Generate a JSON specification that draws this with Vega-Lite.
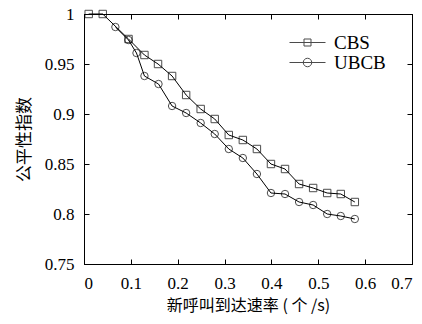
{
  "$schema": "https://vega.github.io/schema/vega-lite/v6.json",
  "width": 328,
  "height": 250,
  "autosize": "none",
  "padding": {"left": 84, "top": 14, "right": 10, "bottom": 60},
  "background": "white",
  "config": {
    "view": {"stroke": "black", "strokeWidth": 1},
    "font": "Liberation Serif",
    "axis": {
      "grid": false,
      "domainColor": "black",
      "tickColor": "black",
      "labelColor": "black",
      "labelFont": "Liberation Serif",
      "labelFontSize": 17,
      "titleFont": "Noto Sans CJK SC",
      "titleFontWeight": "normal",
      "titleColor": "black"
    }
  },
  "data": {
    "values": [
      {"rate": 0.01, "fairness": 1.0, "series": "CBS"},
      {"rate": 0.04, "fairness": 1.0, "series": "CBS"},
      {"rate": 0.095, "fairness": 0.975, "series": "CBS"},
      {"rate": 0.129, "fairness": 0.959, "series": "CBS"},
      {"rate": 0.158, "fairness": 0.95, "series": "CBS"},
      {"rate": 0.188, "fairness": 0.938, "series": "CBS"},
      {"rate": 0.218, "fairness": 0.919, "series": "CBS"},
      {"rate": 0.249, "fairness": 0.905, "series": "CBS"},
      {"rate": 0.279, "fairness": 0.895, "series": "CBS"},
      {"rate": 0.309, "fairness": 0.879, "series": "CBS"},
      {"rate": 0.339, "fairness": 0.874, "series": "CBS"},
      {"rate": 0.369, "fairness": 0.865, "series": "CBS"},
      {"rate": 0.399, "fairness": 0.85, "series": "CBS"},
      {"rate": 0.429, "fairness": 0.845, "series": "CBS"},
      {"rate": 0.459, "fairness": 0.83, "series": "CBS"},
      {"rate": 0.489, "fairness": 0.826, "series": "CBS"},
      {"rate": 0.519, "fairness": 0.821, "series": "CBS"},
      {"rate": 0.548, "fairness": 0.82, "series": "CBS"},
      {"rate": 0.578, "fairness": 0.812, "series": "CBS"},
      {"rate": 0.067, "fairness": 0.987, "series": "UBCB"},
      {"rate": 0.095, "fairness": 0.974, "series": "UBCB"},
      {"rate": 0.112, "fairness": 0.961, "series": "UBCB"},
      {"rate": 0.129, "fairness": 0.938, "series": "UBCB"},
      {"rate": 0.159, "fairness": 0.93, "series": "UBCB"},
      {"rate": 0.188, "fairness": 0.908, "series": "UBCB"},
      {"rate": 0.218, "fairness": 0.901, "series": "UBCB"},
      {"rate": 0.249, "fairness": 0.891, "series": "UBCB"},
      {"rate": 0.279, "fairness": 0.88, "series": "UBCB"},
      {"rate": 0.309, "fairness": 0.865, "series": "UBCB"},
      {"rate": 0.339, "fairness": 0.856, "series": "UBCB"},
      {"rate": 0.369, "fairness": 0.84, "series": "UBCB"},
      {"rate": 0.399, "fairness": 0.821, "series": "UBCB"},
      {"rate": 0.429, "fairness": 0.82, "series": "UBCB"},
      {"rate": 0.459, "fairness": 0.812, "series": "UBCB"},
      {"rate": 0.489, "fairness": 0.809, "series": "UBCB"},
      {"rate": 0.519, "fairness": 0.8, "series": "UBCB"},
      {"rate": 0.548, "fairness": 0.798, "series": "UBCB"},
      {"rate": 0.578, "fairness": 0.795, "series": "UBCB"}
    ]
  },
  "layer": [
    {
      "mark": {"type": "line", "color": "black", "strokeWidth": 1},
      "encoding": {
        "x": {
          "field": "rate", "type": "quantitative",
          "scale": {"domain": [0, 0.7], "nice": false, "zero": false},
          "axis": {"orient": "bottom", "values": [0, 0.1, 0.2, 0.3, 0.4, 0.5, 0.6, 0.7], "format": "~g", "tickSize": -5, "labelPadding": 16, "title": "新呼叫到达速率 ( 个 /s)", "titleFontSize": 16, "titlePadding": 6}
        },
        "y": {
          "field": "fairness", "type": "quantitative",
          "scale": {"domain": [0.75, 1], "nice": false, "zero": false},
          "axis": {"orient": "left", "values": [0.75, 0.8, 0.85, 0.9, 0.95, 1], "format": "~g", "tickSize": -5, "labelPadding": 15, "title": "公平性指数", "titleFontSize": 17, "titlePadding": 11}
        },
        "detail": {"field": "series"}
      }
    },
    {
      "mark": {"type": "point", "filled": false, "color": "black", "strokeWidth": 1},
      "encoding": {
        "x": {
          "field": "rate", "type": "quantitative",
          "axis": {"orient": "top", "values": [0, 0.1, 0.2, 0.3, 0.4, 0.5, 0.6, 0.7], "labels": false, "tickSize": -5, "title": null}
        },
        "y": {
          "field": "fairness", "type": "quantitative",
          "axis": {"orient": "right", "values": [0.75, 0.8, 0.85, 0.9, 0.95, 1], "labels": false, "tickSize": -5, "title": null}
        },
        "shape": {
          "field": "series", "type": "nominal",
          "scale": {"domain": ["CBS", "UBCB"], "range": ["square", "circle"]},
          "legend": null
        },
        "size": {"value": 55}
      }
    },
    {
      "transform": [{"filter": "datum.rate < 0"}],
      "mark": {"type": "point", "filled": false, "color": "black", "strokeWidth": 1, "size": 100},
      "encoding": {
        "x": {"field": "rate", "type": "quantitative", "axis": null},
        "y": {"field": "fairness", "type": "quantitative", "axis": null},
        "shape": {
          "field": "series", "type": "nominal",
          "scale": {"domain": ["CBS", "UBCB"], "range": ["M-3.6,0H3.6M-0.7,-0.7H0.7V0.7H-0.7Z", "M-3.6,0H3.6M0.85,0A0.85,0.85,0,1,1,-0.85,0A0.85,0.85,0,1,1,0.85,0Z"]},
          "legend": {
            "title": null,
            "orient": "none",
            "legendX": 214,
            "legendY": 19,
            "padding": 0,
            "symbolSize": 100,
            "symbolStrokeColor": "black",
            "symbolFillColor": "transparent",
            "symbolStrokeWidth": 1,
            "labelFont": "Liberation Serif",
            "labelFontSize": 19,
            "labelColor": "black",
            "labelOffset": 17,
            "rowPadding": 0
          }
        }
      }
    }
  ],
  "resolve": {"axis": {"x": "independent", "y": "independent"}, "scale": {"shape": "independent"}}
}
